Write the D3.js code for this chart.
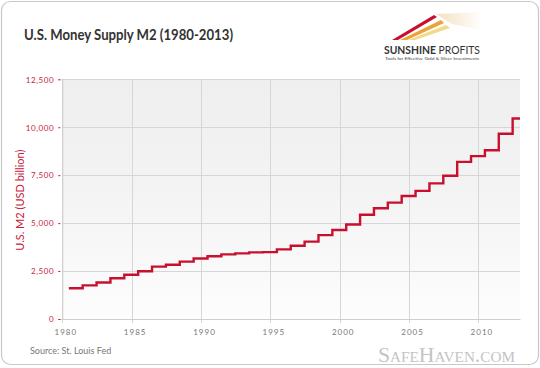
<!DOCTYPE html>
<html><head><meta charset="utf-8">
<script src="https://cdn.jsdelivr.net/npm/d3@7"></script>
<style>body{margin:0;background:#fff}svg{display:block}</style>
</head><body>
<script>
const years = [1980,1981,1982,1983,1984,1985,1986,1987,1988,1989,1990,1991,1992,1993,1994,1995,1996,1997,1998,1999,2000,2001,2002,2003,2004,2005,2006,2007,2008,2009,2010,2011,2012];
const m2 = [1600,1756,1906,2124,2306,2492,2729,2828,2990,3154,3272,3372,3424,3474,3486,3630,3819,4033,4375,4638,4925,5433,5772,6067,6418,6680,7071,7469,8193,8496,8801,9660,10459];
const yTicks = [0,2500,5000,7500,10000,12500];
const xTicks = [1980,1985,1990,1995,2000,2005,2010];
const title = "U.S. Money Supply M2 (1980-2013)";
const yTitle = "U.S. M2 (USD billion)";
const source = "Source: St. Louis Fed";

const W=540,H=368;
const svg=d3.select("body").append("svg").attr("width",W).attr("height",H);
const defs=svg.append("defs");
const g1=defs.append("linearGradient").attr("id","bg").attr("x1",0).attr("y1",0).attr("x2",0).attr("y2",1);
g1.append("stop").attr("offset","0%").attr("stop-color","#efefef");
g1.append("stop").attr("offset","45%").attr("stop-color","#f3f3f3");
g1.append("stop").attr("offset","100%").attr("stop-color","#fdfdfd");
const g2=defs.append("linearGradient").attr("id","fade").attr("x1",0).attr("y1",0).attr("x2",1).attr("y2",0);
g2.append("stop").attr("offset","0%").attr("stop-color","#f0d9b0");
g2.append("stop").attr("offset","100%").attr("stop-color","#ffffff");

svg.append("rect").attr("x",1.5).attr("y",1.5).attr("width",W-3).attr("height",H-5)
  .attr("rx",9).attr("fill","#fff").attr("stroke","#c8c8c8").attr("stroke-width",1.2);

const L=62.3,R=520,T=79.3,B=319;
const x=d3.scaleLinear().domain([1980,2013]).range([L,R]);
const y=d3.scaleLinear().domain([0,12500]).range([B,T]);

svg.append("rect").attr("x",L).attr("y",T).attr("width",R-L).attr("height",B-T).attr("fill","url(#bg)");

// gridlines
svg.append("g").selectAll("line").data(yTicks).join("line")
  .attr("x1",L).attr("x2",R).attr("y1",d=>Math.round(y(d))+0.5).attr("y2",d=>Math.round(y(d))+0.5)
  .attr("stroke","#d6d6d6");
svg.append("g").selectAll("line").data(xTicks).join("line")
  .attr("y1",T).attr("y2",B+4).attr("x1",d=>Math.round(x(d))+0.5).attr("x2",d=>Math.round(x(d))+0.5)
  .attr("stroke","#d6d6d6");

// y axis
const ya=svg.append("g").attr("transform",`translate(${L},0)`)
  .call(d3.axisLeft(y).tickValues(yTicks).tickSize(4).tickPadding(4).tickFormat(d3.format(",")));
ya.select(".domain").attr("stroke","#cfcfcf");
ya.selectAll(".tick line").attr("stroke","#c8102e").attr("transform","translate(-2,0)").attr("x2",-2);
ya.selectAll("text").attr("fill","#c8213a").style("font-family","Lato, sans-serif").style("font-size","8px")
  .style("letter-spacing","0.6px").attr("x",-8).attr("dy","0.35em");

// x axis
const xa=svg.append("g").attr("transform",`translate(0,${B})`)
  .call(d3.axisBottom(x).tickValues(xTicks).tickSize(0).tickPadding(10).tickFormat(d3.format("d")));
xa.select(".domain").attr("stroke","#cfcfcf");
xa.selectAll("text").attr("fill","#777").style("font-family","Lato, sans-serif").style("font-size","8px")
  .style("letter-spacing","1px").attr("dx","3");

// line
const pts=years.map((yr,i)=>[yr+0.47,m2[i]]);
pts.push([2013,m2[m2.length-1]]);
svg.append("path").datum(pts)
  .attr("d",d3.line().x(d=>x(d[0])).y(d=>y(d[1])).curve(d3.curveStepAfter))
  .attr("fill","none").attr("stroke","#c8102e").attr("stroke-width",2.4);

// title
svg.append("text").attr("x",24).attr("y",40).text(title)
  .attr("textLength",209).attr("lengthAdjust","spacingAndGlyphs")
  .style("font-family","Lato, sans-serif").style("font-weight","bold").style("font-size","15px").attr("fill","#333");

// y title
svg.append("text").attr("transform",`translate(23.5,${(T+B)/2 + 1}) rotate(-90)`).attr("text-anchor","middle")
  .text(yTitle).style("font-family","Lato, sans-serif").style("font-size","11px").attr("fill","#c8213a");

// source
svg.append("text").attr("x",30).attr("y",354).text(source)
  .style("font-family","Lato, sans-serif").style("font-size","9px").attr("fill","#777");

// watermark
svg.append("text").attr("x",515).attr("y",362).attr("text-anchor","end").text("SafeHaven.com")
  .attr("textLength",137).attr("lengthAdjust","spacingAndGlyphs")
  .style("font-family","'Liberation Serif', serif").style("font-variant","small-caps").style("font-size","20px")
  .attr("fill","#c4c4c4");

// logo
const lg=svg.append("g");
lg.append("path").attr("d","M436,14 L480,12 L482,30 L452,24 Z").attr("fill","url(#fade)").attr("opacity",0.8);
lg.append("path").attr("d","M392,40 L434,15 L437,17 L398,40 Z").attr("fill","#c8102e");
lg.append("path").attr("d","M400,40 L441,20 L444,23 L407,40 Z").attr("fill","#e8a33a");
lg.append("path").attr("d","M408,40 L446,25 L450,28 L415,40 Z").attr("fill","#f3d98a");
const lt=lg.append("text").attr("x",384).attr("y",54).attr("textLength",96).attr("lengthAdjust","spacingAndGlyphs")
  .style("font-family","Lato, sans-serif").style("font-size","11px").attr("fill","#333");
lt.append("tspan").style("font-weight","bold").text("SUNSHINE");
lt.append("tspan").text(" PROFITS");
lg.append("text").attr("x",385).attr("y",60).attr("textLength",94).attr("lengthAdjust","spacingAndGlyphs")
  .text("Tools for Effective Gold & Silver Investments")
  .style("font-family","Lato, sans-serif").style("font-size","4px").attr("fill","#444");
</script>
</body></html>
